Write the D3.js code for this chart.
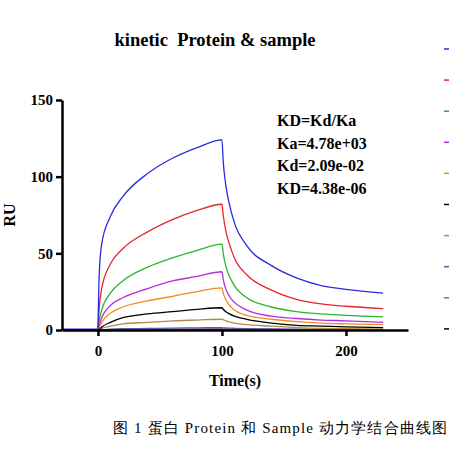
<!DOCTYPE html><html><head><meta charset="utf-8"><script src="https://cdn.jsdelivr.net/npm/d3@7"></script>
<style>body{margin:0;background:#fff}text{font-family:"Liberation Serif","Times New Roman",serif}</style></head><body><svg id="c" width="449" height="449"></svg><script>
const times=[0,1,3,10,20,40,60,80,100,101,103,106,110,120,140,160,180,200,230];
const colors=["#2b2bdb","#e8262a","#2cb52c","#b030e0","#f08c1e","#000000","#b08a50","#5a5aa0","#a0608a","#000000"];
const series=[
[0,36,56,74,87,102,112,119,124,110,95,82,70,55,42,34,29,26.5,24],
[0,14,27,43,53,64,72,78,82,75,65,56,47,36,26,20,17,15.5,14],
[0,6,13,24,32,41,47,52,56,50,42,35,29,21,15,12,10.5,9.5,8.5],
[0,3,8,16,21,27,32,35,38,33,27,22,18,13,9,7.5,6.5,6,5],
[0,2,5,11,15,19,22,25,27.5,24,20,16,13,9.5,7,5.5,4.5,4,3.5],
[0,0.5,2,5,8,10.5,12,13.5,14.5,13.5,12,10.5,9,7,4.5,3,2.5,2,1.5],
[0,0.2,1,2.5,4,5,6,6.5,7,6.7,6,5.3,4.5,3.5,2.5,1.5,1,0.8,0.5],
[0,0,0.2,0.5,0.8,1,1.2,1.4,1.5,1.4,1.3,1.2,1.1,0.9,0.7,0.5,0.4,0.3,0.3],
[0,0,0.1,0.3,0.4,0.5,0.6,0.7,0.8,0.75,0.7,0.6,0.55,0.5,0.4,0.3,0.25,0.2,0.2],
[0,0,0,0.1,0.1,0.2,0.2,0.3,0.3,0.3,0.3,0.25,0.2,0.2,0.15,0.1,0.1,0.1,0.1]];
const baseT=[-29,0], baseV=[0.5,0.5];
const xTicks=[0,100,200], yTicks=[0,50,100,150];
const notes=["KD=Kd/Ka","Ka=4.78e+03","Kd=2.09e-02","KD=4.38e-06"];
const svg=d3.select("#c");
const x=d3.scaleLinear().domain([-29,250]).range([62,408]);
const y=d3.scaleLinear().domain([0,150]).range([330,100]);
const line=d3.line().x(d=>x(d[0])).y(d=>y(d[1])).curve(d3.curveMonotoneX);
svg.append("path").attr("d",d3.line().x(d=>x(d[0])).y(d=>y(d[1]))(baseT.map((t,i)=>[t,baseV[i]]))).attr("stroke",colors[0]).attr("stroke-width",1.5).attr("fill","none");
series.slice().reverse().forEach((s,ri)=>{const i=series.length-1-ri;
 svg.append("path").attr("d",line(times.map((t,j)=>[t,s[j]]))).attr("stroke",colors[i]).attr("stroke-width",1.3).attr("fill","none");});
const xa=svg.append("g").attr("transform","translate(0,330)").call(d3.axisBottom(x).tickValues(xTicks).tickSize(6).tickSizeOuter(0));
const ya=svg.append("g").attr("transform","translate(62,0)").call(d3.axisLeft(y).tickValues(yTicks).tickSize(6).tickSizeOuter(0));
[xa,ya].forEach(a=>{a.select(".domain").attr("stroke-width",2.5);a.selectAll(".tick line").attr("stroke-width",2.5);
 a.selectAll("text").attr("font-size",15).attr("font-weight","bold").attr("font-family","Liberation Serif");});
xa.selectAll("text").attr("dy","1.1em");
svg.append("text").attr("x",215).attr("y",46).attr("text-anchor","middle").attr("font-size",18.5).attr("font-weight","bold").style("white-space","pre").text("kinetic  Protein & sample");
svg.append("text").attr("transform","translate(15,215) rotate(-90)").attr("text-anchor","middle").attr("font-size",16).attr("font-weight","bold").text("RU");
svg.append("text").attr("x",235).attr("y",386).attr("text-anchor","middle").attr("font-size",16).attr("font-weight","bold").text("Time(s)");
notes.forEach((n,i)=>svg.append("text").attr("x",277).attr("y",126+i*22.5).attr("font-size",16).attr("font-weight","bold").text(n));
colors.forEach((c,i)=>svg.append("line").attr("x1",444).attr("x2",449).attr("y1",49+i*31.1).attr("y2",49+i*31.1).attr("stroke",c).attr("stroke-width",1.5));
svg.append("text").attr("x",113).attr("y",433).attr("font-size",15).attr("textLength",334).attr("lengthAdjust","spacing").text("图 1 蛋白 Protein 和 Sample 动力学结合曲线图");
</script></body></html>
